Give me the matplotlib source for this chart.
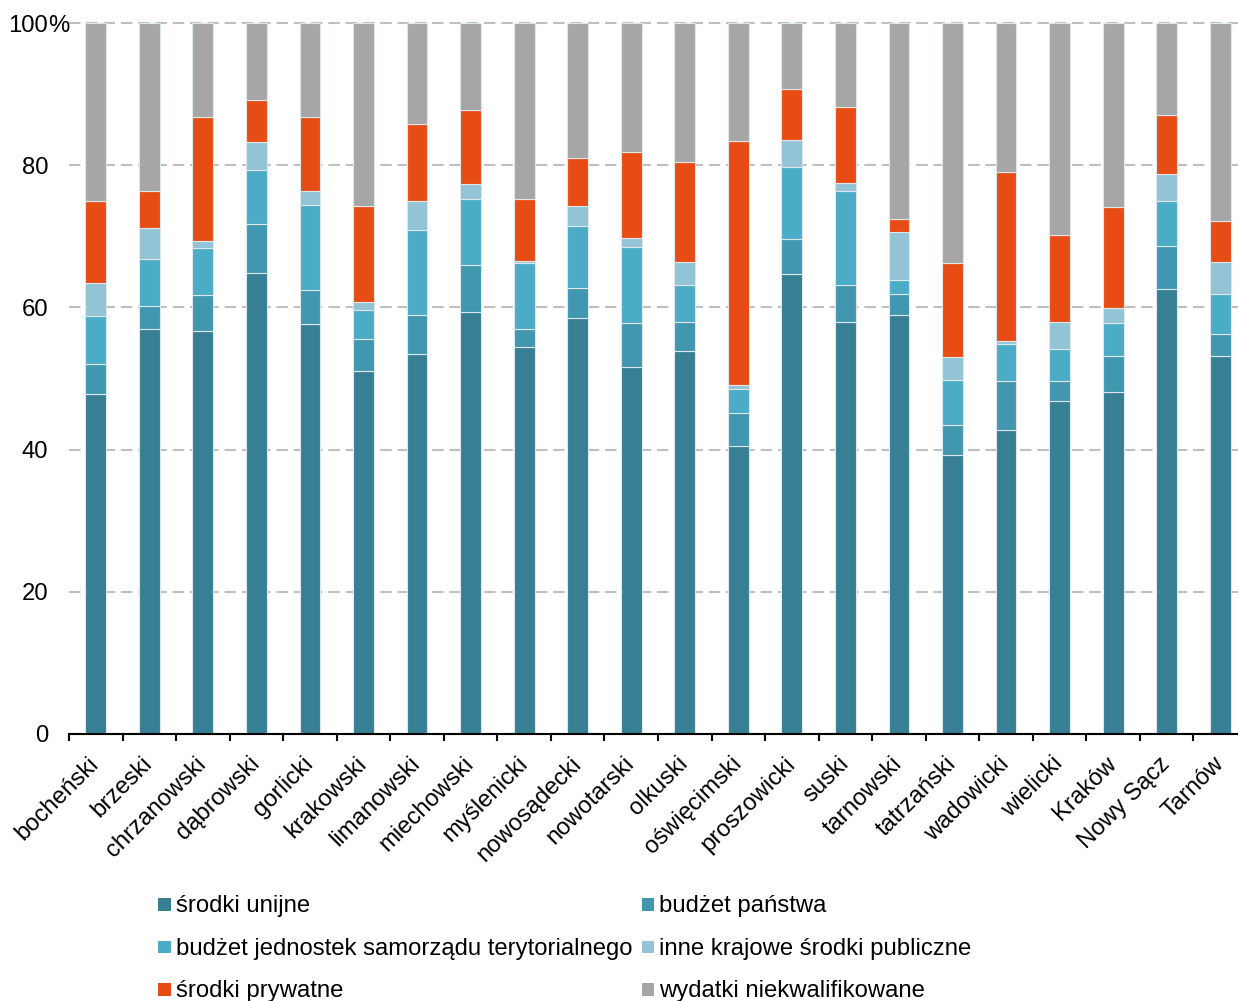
import matplotlib
matplotlib.use("Agg")
import matplotlib.pyplot as plt
from matplotlib.patches import Rectangle
import numpy as np

plt.rcParams['font.family'] = ['Liberation Sans', 'DejaVu Sans']

categories = ["bocheński", "brzeski", "chrzanowski", "dąbrowski", "gorlicki",
              "krakowski", "limanowski", "miechowski", "myślenicki", "nowosądecki",
              "nowotarski", "olkuski", "oświęcimski", "proszowicki", "suski",
              "tarnowski", "tatrzański", "wadowicki", "wielicki", "Kraków",
              "Nowy Sącz", "Tarnów"]

srodki_unijne = [47.8, 56.9, 56.7, 64.8, 57.6, 51.0, 53.5, 59.4, 54.5, 58.5, 51.6,
                 53.8, 40.5, 64.7, 57.9, 59.0, 39.3, 42.7, 46.9, 48.1, 62.6, 53.2]
budzet_panstwa = [4.3, 3.3, 5.0, 6.9, 4.9, 4.6, 5.4, 6.5, 2.4, 4.2, 6.2,
                  4.1, 4.7, 4.9, 5.3, 2.9, 4.1, 7.0, 2.7, 5.1, 6.1, 3.1]
budzet_jst = [6.7, 6.6, 6.6, 7.6, 11.9, 4.1, 12.0, 9.3, 9.3, 8.8, 10.7,
              5.3, 3.3, 10.1, 13.2, 1.9, 6.4, 5.1, 4.5, 4.6, 6.2, 5.6]
inne_krajowe = [4.7, 4.4, 1.0, 4.0, 2.0, 1.1, 4.1, 2.1, 0.3, 2.8, 1.2,
                3.2, 0.6, 3.8, 1.1, 6.8, 3.2, 0.5, 3.8, 2.1, 3.8, 4.5]
srodki_prywatne = [11.4, 5.2, 17.5, 5.8, 10.4, 13.4, 10.8, 10.4, 8.8, 6.7, 12.2,
                   14.1, 34.3, 7.2, 10.7, 1.9, 13.2, 23.7, 12.3, 14.2, 8.3, 5.7]
wydatki_niekwal = [25.1, 23.6, 13.2, 10.9, 13.2, 25.8, 14.2, 12.3, 24.7, 19.0, 18.1,
                   19.5, 16.6, 9.3, 11.8, 27.5, 33.8, 21.0, 29.8, 25.9, 13.0, 27.9]

series_labels = ["środki unijne", "budżet państwa",
                 "budżet jednostek samorządu terytorialnego",
                 "inne krajowe środki publiczne", "środki prywatne",
                 "wydatki niekwalifikowane"]
series_values = [srodki_unijne, budzet_panstwa, budzet_jst, inne_krajowe,
                 srodki_prywatne, wydatki_niekwal]
colors = ["#367F95", "#4197AF", "#4AACC6", "#93C4D6", "#E84C15", "#A6A6A6"]

FS = 17.2
W, H = 1238, 1001
fig = plt.figure(figsize=(W / 100, H / 100), dpi=100)
ax = fig.add_axes([69 / W, (H - 734) / H, 1178 / W, 711 / H])

x = np.arange(len(categories))
bottom = np.zeros(len(categories))
for vals, col in zip(series_values, colors):
    v = np.array(vals)
    ax.bar(x, v, bottom=bottom, width=0.39, color=col,
           edgecolor="#dfe7ea", linewidth=0.8, zorder=3)
    bottom += v

ax.set_xlim(-0.5, len(categories) - 0.5)
ax.set_ylim(0, 100)

ax.set_yticks([0, 20, 40, 60, 80, 100])
ax.set_yticklabels(["0", "20", "40", "60", "80", "100"])
ax.tick_params(axis='y', length=0, pad=15, labelsize=FS)
ax.annotate("%", xy=(0, 100), xycoords=ax.get_yaxis_transform(),
            xytext=(-21, 0), textcoords='offset pixels', ha='left',
            va='center_baseline', fontsize=FS)

ax.set_xticks(np.arange(len(categories) + 1) - 0.5, minor=False)
ax.set_xticklabels([])
ax.set_xticks(x, minor=True)
ax.set_xticklabels(categories, minor=True, rotation=45, ha='right',
                   va='center', rotation_mode='anchor', fontsize=FS)
ax.tick_params(axis='x', which='major', length=5, width=1.5, direction='out',
               color='black')
ax.tick_params(axis='x', which='minor', length=0, pad=19)

ax.yaxis.grid(True, color="#BFBFBF", linewidth=1.5, linestyle=(0, (5.5, 2.8)))
ax.set_axisbelow(True)
for gl in ax.get_ygridlines():
    gl.set_clip_on(False)

for s in ["left", "right", "top"]:
    ax.spines[s].set_visible(False)
ax.spines["bottom"].set_linewidth(1.5)
ax.spines["bottom"].set_color("black")
ax.spines["bottom"].set_zorder(5)

# legend (2 columns, 3 rows)
col_x = [158.3, 641.5]
row_y = [904.7, 947.2, 989.5]
sq = 12.5
for i, (lab, col) in enumerate(zip(series_labels, colors)):
    r, c = i // 2, i % 2
    cx, cy = col_x[c], row_y[r]
    fig.patches.append(Rectangle((cx / W, (H - cy - sq / 2) / H), sq / W, sq / H,
                                 transform=fig.transFigure, facecolor=col,
                                 edgecolor='none'))
    fig.text((cx + sq + 5) / W, (H - cy - 7.5) / H, lab, fontsize=FS,
             ha='left', va='baseline')

fig.savefig("out.png", dpi=100)
